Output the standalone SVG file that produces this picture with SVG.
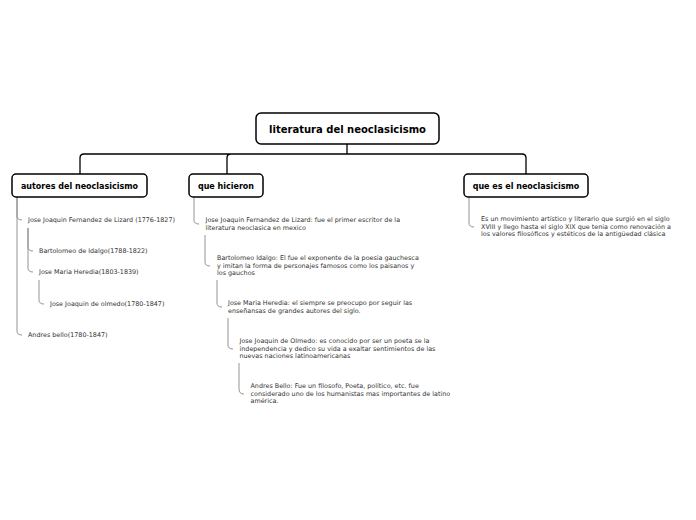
<svg xmlns="http://www.w3.org/2000/svg" width="696" height="520" viewBox="0 0 696 520">
<style>
.box{fill:#fff;stroke:#000;stroke-width:1.5}
.t0{font-family:"DejaVu Sans",Verdana,sans-serif;font-weight:bold;font-size:10px;fill:#000;text-anchor:middle}
.t1{font-family:"DejaVu Sans",Verdana,sans-serif;font-weight:bold;font-size:8px;fill:#000;text-anchor:middle}
.t2{font-family:"DejaVu Sans",Verdana,sans-serif;font-size:6.4px;fill:#333}
.main{fill:none;stroke:#000;stroke-width:1.3}
.sub{fill:none;stroke:#888;stroke-width:0.9}
</style>
<rect width="696" height="520" fill="#fff"/>
<g id="connectors">
<path class="main" d="M347 144V154M80 174V158Q80 154 84 154H522Q526 154 526 158V174M227 174V158Q227 154 231 154"/>
<path class="sub" d="M17 197V216Q17 220 22 220M17 197V331Q17 335 22 335"/>
<path class="sub" d="M28 228V247Q28 251 33 251M28 228V268Q28 272 33 272"/>
<path class="sub" d="M39 280V300Q39 304 44 304"/>
<path class="sub" d="M194 197V220Q194 224 199 224"/>
<path class="sub" d="M205 235V262Q205 266 210 266"/>
<path class="sub" d="M217 280V303Q217 307 222 307"/>
<path class="sub" d="M228 318V345Q228 349 233 349"/>
<path class="sub" d="M239 363V389Q239 394 244 394"/>
<path class="sub" d="M469 197V223Q469 227 474 227"/>
</g>
<g id="root">
<rect class="box" x="256" y="113" width="183" height="31" rx="5"/>
<text class="t0" x="347.5" y="132.5">literatura del neoclasicismo</text>
</g>
<g id="autores">
<rect class="box" x="12" y="174" width="135" height="23" rx="4"/>
<text class="t1" x="79.5" y="188.5">autores del neoclasicismo</text>
</g>
<g id="hicieron">
<rect class="box" x="189" y="174" width="74" height="23" rx="4"/>
<text class="t1" x="226" y="188.5">que hicieron</text>
</g>
<g id="quees">
<rect class="box" x="464" y="174" width="124" height="23" rx="4"/>
<text class="t1" x="526" y="188.5">que es el neoclasicismo</text>
</g>
<g id="a1"><text class="t2" x="28" y="222">Jose Joaquin Fernandez de Lizard (1776-1827)</text></g>
<g id="a2"><text class="t2" x="39" y="253">Bartolomeo de Idalgo(1788-1822)</text></g>
<g id="a3"><text class="t2" x="39" y="274">Jose Maria Heredia(1803-1839)</text></g>
<g id="a4"><text class="t2" x="50" y="306">Jose Joaquin de olmedo(1780-1847)</text></g>
<g id="a5"><text class="t2" x="28" y="337">Andres bello(1780-1847)</text></g>
<g id="h1"><text class="t2" x="205.5" y="222"><tspan x="205.5">Jose Joaquin Fernandez de Lizard: fue el primer escritor de la</tspan><tspan x="205.5" dy="7.5">literatura neoclasica en mexico</tspan></text></g>
<g id="h2"><text class="t2" x="217" y="260"><tspan x="217">Bartolomeo Idalgo: El fue el exponente de la poesia gauchesca</tspan><tspan x="217" dy="7.5">y imitan la forma de personajes famosos como los paisanos y</tspan><tspan x="217" dy="7.5">los gauchos</tspan></text></g>
<g id="h3"><text class="t2" x="228" y="305"><tspan x="228">Jose Maria Heredia: el siempre se preocupo por seguir las</tspan><tspan x="228" dy="7.5">enseñansas de grandes autores del siglo.</tspan></text></g>
<g id="h4"><text class="t2" x="239.5" y="343"><tspan x="239.5">Jose Joaquin de Olmedo: es conocido por ser un poeta se la</tspan><tspan x="239.5" dy="7.5">independencia y dedico su vida a exaltar sentimientos de las</tspan><tspan x="239.5" dy="7.5">nuevas naciones latinoamericanas</tspan></text></g>
<g id="h5"><text class="t2" x="250.5" y="388"><tspan x="250.5">Andres Bello: Fue un filosofo, Poeta, político, etc. fue</tspan><tspan x="250.5" dy="7.5">considerado uno de los humanistas mas importantes de latino</tspan><tspan x="250.5" dy="7.5">américa.</tspan></text></g>
<g id="q1"><text class="t2" x="481" y="221"><tspan x="481">Es un movimiento artístico y literario que surgió en el siglo</tspan><tspan x="481" dy="7.5">XVIII y llego hasta el siglo XIX que tenia como renovación a</tspan><tspan x="481" dy="7.5">los valores filosóficos y estéticos de la antigüedad clásica</tspan></text></g>
</svg>
